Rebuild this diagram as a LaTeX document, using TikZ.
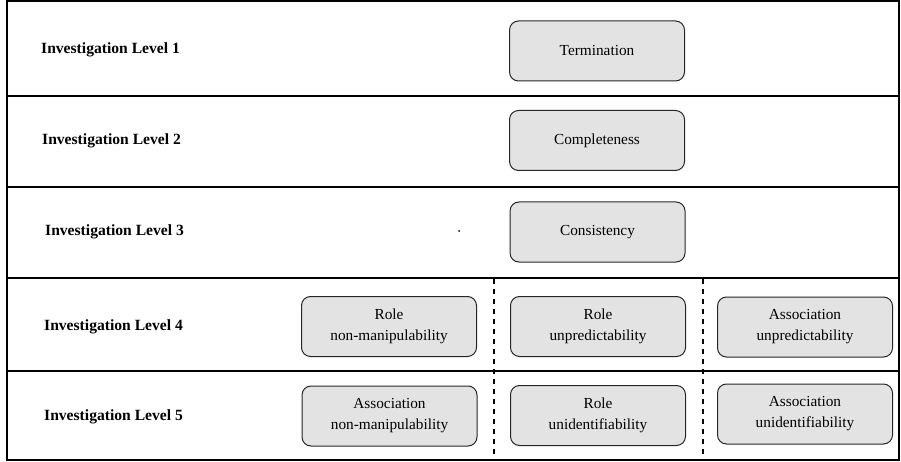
\documentclass[tikz,border=0pt]{standalone}
\usepackage{fontspec}
\setmainfont{Liberation Serif}
\usetikzlibrary{positioning}

\begin{document}
\begin{tikzpicture}[
    x=1pt, y=-1pt,
    node distance=31pt and 34pt,
    levelbox/.style={rectangle, draw=black!85, line width=1pt, fill=black!11, rounded corners=9pt, minimum width=175pt, minimum height=60pt, align=center, font=\fontsize{15.3}{21}\selectfont},
    leveltag/.style={anchor=west, inner sep=0pt, font=\fontsize{15.6}{18}\selectfont\bfseries},
    rowline/.style={line width=1.2pt},
    colline/.style={line width=1.3pt, dash pattern=on 5pt off 5pt}
]
\useasboundingbox (0,0) rectangle (901,462);

% frame and rows
\draw[rowline] (7,1) rectangle (899,460);
\foreach \y in {96,187,278,371}
    \draw[rowline] (7,\y) -- (899,\y);
\foreach \x in {494,703}
    \draw[colline] (\x,279) -- (\x,460);

% level tags
\node[leveltag] (t1) at (41,50) {Investigation Level 1};
\node[leveltag] (t2) at (42,141) {Investigation Level 2};
\node[leveltag] (t3) at (45,232) {Investigation Level 3};
\node[leveltag] (t4) at (44,327) {Investigation Level 4};
\node[leveltag] (t5) at (44,417) {Investigation Level 5};

% centre column
\node[levelbox] (term) at (597,51) {Termination};
\node[levelbox] (comp) at (597,140.5) {Completeness};
\node[levelbox] (cons) at (597.5,232) {Consistency};
\node[levelbox] (roleup) at (598,326.5) {Role\\unpredictability};
\node[levelbox] (roleui) at (598,415.5) {Role\\unidentifiability};

% side columns
\node[levelbox] (rolenm) at (389,326.5) {Role\\non-manipulability};
\node[levelbox] (assocup) at (805,327) {Association\\unpredictability};
\node[levelbox] (assocnm) at (389.5,416) {Association\\non-manipulability};
\node[levelbox] (assocui) at (805,414) {Association\\unidentifiability};

\fill (459,231) circle (1pt);
\end{tikzpicture}
\end{document}
